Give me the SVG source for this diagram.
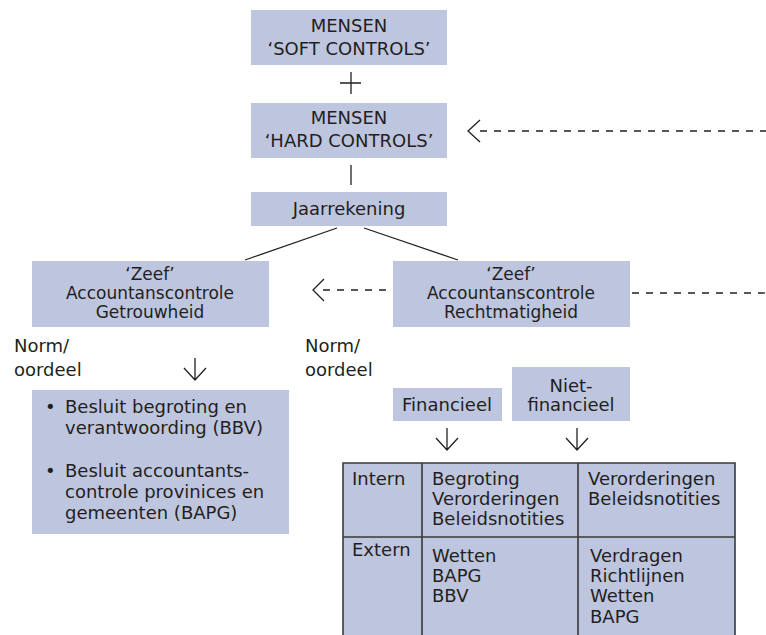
<svg xmlns="http://www.w3.org/2000/svg" width="766" height="635" viewBox="0 0 766 635">
<style>
.box{fill:#bec5df;}
text{font-family:"DejaVu Sans",sans-serif;font-size:18px;fill:#231f20;}
.c{text-anchor:middle;}
.z{font-size:17px;}
.ln{stroke:#231f20;stroke-width:1.3;fill:none;}
.dash{stroke:#231f20;stroke-width:1.3;fill:none;stroke-dasharray:7 7;}
.grid{stroke:#3a3a3a;stroke-width:1.6;fill:none;}
</style>
<rect width="766" height="635" fill="#ffffff"/>
<g id="soft">
<rect class="box" x="251" y="10" width="196" height="55"/>
<text class="c" x="349" y="32">MENSEN</text>
<text class="c" x="349" y="55">‘SOFT CONTROLS’</text>
</g>
<g id="hard">
<rect class="box" x="251" y="103" width="196" height="55"/>
<text class="c" x="349" y="124">MENSEN</text>
<text class="c" x="349" y="147">‘HARD CONTROLS’</text>
</g>
<g id="jaarrekening">
<rect class="box" x="251" y="192" width="196" height="34"/>
<text class="c" x="349" y="215">Jaarrekening</text>
</g>
<g id="zeef-getrouwheid">
<rect class="box" x="32" y="261" width="237" height="66"/>
<text class="c z" x="150" y="280">‘Zeef’</text>
<text class="c z" x="150" y="299">Accountanscontrole</text>
<text class="c z" x="150" y="318">Getrouwheid</text>
</g>
<g id="zeef-rechtmatigheid">
<rect class="box" x="393" y="261" width="237" height="66"/>
<text class="c z" x="511" y="280">‘Zeef’</text>
<text class="c z" x="511" y="299">Accountanscontrole</text>
<text class="c z" x="511" y="318">Rechtmatigheid</text>
</g>
<g id="norm-left">
<text x="14" y="352">Norm/</text>
<text x="14" y="376">oordeel</text>
</g>
<g id="norm-right">
<text x="305" y="352">Norm/</text>
<text x="305" y="376">oordeel</text>
</g>
<g id="besluiten">
<rect class="box" x="32" y="390" width="257" height="144"/>
<text x="45" y="413">•</text>
<text x="65" y="413">Besluit begroting en</text>
<text x="65" y="434">verantwoording (BBV)</text>
<text x="45" y="477">•</text>
<text x="65" y="477">Besluit accountants-</text>
<text x="65" y="498">controle provinices en</text>
<text x="65" y="519">gemeenten (BAPG)</text>
</g>
<g id="financieel">
<rect class="box" x="393" y="388" width="109" height="33"/>
<text class="c" x="447" y="411">Financieel</text>
</g>
<g id="niet-financieel">
<rect class="box" x="512" y="367" width="118" height="54"/>
<text class="c" x="571" y="392">Niet-</text>
<text class="c" x="571" y="411">financieel</text>
</g>
<g id="tabel">
<rect class="box" x="343" y="463" width="392" height="180"/>
<path class="grid" d="M343 643V463H735V643M422 463V643M578 463V643M343 537H735"/>
<text x="352" y="485">Intern</text>
<text x="432" y="485">Begroting</text>
<text x="432" y="505">Verorderingen</text>
<text x="432" y="525">Beleidsnotities</text>
<text x="588" y="485">Verorderingen</text>
<text x="588" y="505">Beleidsnotities</text>
<text x="352" y="556">Extern</text>
<text x="432" y="562">Wetten</text>
<text x="432" y="582">BAPG</text>
<text x="432" y="602">BBV</text>
<text x="590" y="562">Verdragen</text>
<text x="590" y="582">Richtlijnen</text>
<text x="590" y="602">Wetten</text>
<text x="590" y="623">BAPG</text>
</g>
<g id="connectors">
<path class="ln" d="M340 83H361M351 72V94"/>
<path class="ln" d="M351 165V185"/>
<path class="ln" d="M337 228L245 260M364 228L458 260"/>
<path class="dash" d="M480 131H766"/>
<path class="ln" d="M480 120L468 131L480 142"/>
<path class="dash" d="M386 290H319"/>
<path class="ln" d="M324 279L313 290L324 301"/>
<path class="dash" d="M632 293H766"/>
<path class="ln" d="M195 358V380M184 368L195 380L206 368"/>
<path class="ln" d="M447 428V450M436 438L447 450L458 438"/>
<path class="ln" d="M577 428V450M566 438L577 450L588 438"/>
</g>
</svg>
